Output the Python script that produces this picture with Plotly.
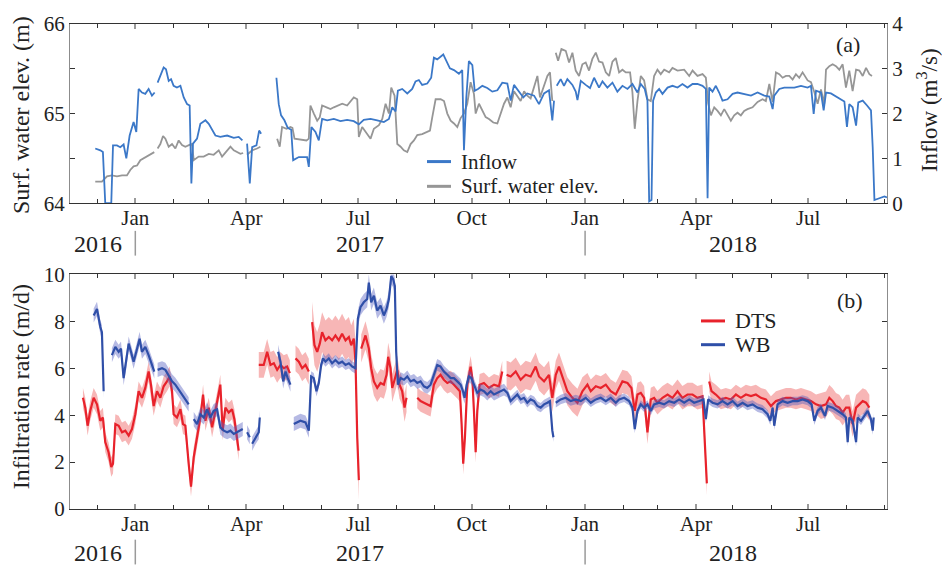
import pandas as pd
import plotly.graph_objects as go

# ---------------- data (days counted from 2017-01-01) ----------------
BASE = "2017-01-01"
X_START = "2016-11-09"
X_END = "2018-09-03"

INFLOW_DAY = [
    -32.5, -28.4, -26.3, -24.4, -19.5, -18.1, -14.9, -12.2, -9.5, -7.3,
    -4.6, -1.4, 0.8, 2.7, 5.4, 8.1, 10.8, 13.5, 15.7, 16.9,
    18.1, 20.3, 23.0, 24.9, 27.1, 29.0, 31.1, 33.8, 36.6, 39.3,
    42.0, 44.1, 45.5, 46.8, 50.1, 52.8, 56.9, 59.6, 62.3, 65.0,
    69.0, 74.5, 79.9, 83.9, 86.9, 88.8, 90.7, 92.9, 94.8, 98.3,
    100.5, 102.1, 108.0, 114.5, 116.4, 118.3, 121.0, 123.7, 126.5, 128.1,
    132.7, 139.4, 140.8, 142.9, 146.2, 148.9, 151.6, 155.7, 161.1, 166.5,
    171.9, 177.3, 181.4, 185.4, 190.9, 196.3, 201.7, 205.8, 208.5, 211.2,
    213.1, 216.6, 220.7, 224.7, 227.4, 230.1, 232.8, 236.9, 240.1, 242.3,
    245.0, 249.9, 252.6, 255.3, 258.6, 262.6, 265.3, 266.7, 268.6, 270.7,
    273.5, 275.4, 278.1, 281.6, 285.6, 289.7, 293.8, 297.8, 301.9, 304.6,
    307.3, 311.4, 314.9, 318.1, 323.6, 327.6, 331.7, 335.7, 338.4, 339.8,
    340.9, 342.0, 345.2, 347.9, 350.6, 354.7, 357.4, 358.8, 361.5, 365.5,
    369.0, 372.3, 376.3, 379.1, 383.1, 387.2, 391.2, 395.3, 399.4, 403.4,
    407.5, 410.2, 413.4, 415.6, 417.0, 418.9, 420.2, 422.4, 425.1, 427.8,
    431.9, 435.9, 440.0, 444.0, 448.1, 452.2, 456.2, 460.3, 463.0, 464.4,
    465.7, 468.4, 471.1, 473.8, 476.5, 480.6, 484.7, 488.7, 494.1, 499.6,
    505.0, 510.4, 514.5, 517.2, 518.5, 522.6, 526.6, 530.7, 534.8, 540.2,
    545.6, 548.3, 550.5, 552.4, 556.4, 558.6, 560.5, 564.5, 568.6, 572.7,
    575.4, 577.5, 579.4, 582.1, 584.9, 586.7, 590.3, 593.8, 597.0, 598.4,
    599.8, 603.8, 607.9, 610.0]
INFLOW_VAL = [
    1.22, 1.18, 1.14, 0.0, 0.0, 1.29, 1.29, 1.25, 1.31, 1.00,
    1.51, 1.81, 1.59, 2.55, 2.47, 2.44, 2.55, 2.40, 2.47, None,
    2.69, 2.84, 3.03, 2.99, 2.73, 2.77, 2.62, 2.58, 2.62, 2.36,
    2.21, 2.18, 0.44, 1.33, 1.44, 1.77, 1.85, 1.77, 1.64, 1.51,
    1.48, 1.51, 1.46, 1.48, 1.40, None, 1.33, 0.44, 1.25, 1.29,
    1.62, 1.55, None, 2.80, 2.21, 1.96, 1.85, 1.68, 1.64, 0.96,
    1.03, 1.03, 0.81, 1.70, 1.59, 1.40, 1.88, 1.85, 1.88, 1.83,
    1.86, 1.83, 1.76, 1.86, 1.88, 1.85, 1.81, 1.88, 2.14, 2.05,
    2.51, 2.55, 2.45, 2.55, 2.72, 2.75, 2.64, 2.67, 2.80, 3.25,
    3.21, 3.32, 3.16, 3.01, 2.97, 2.89, 2.97, 1.18, 2.36, 3.17,
    3.08, 2.51, 2.55, 2.62, 2.57, 2.49, 2.52, 2.69, 2.67, 2.29,
    2.64, 2.49, 2.36, 2.45, 2.40, 2.21, 2.45, 2.52, 1.85, 2.29,
    None, 2.62, 2.77, 2.62, 2.77, 2.64, 2.49, 2.30, 2.73, 2.64,
    2.57, 2.80, 2.58, 2.72, 2.58, 2.69, 2.49, 2.62, 2.55, 2.66,
    2.47, 2.66, 2.55, 2.29, 0.04, 0.07, 2.29, 2.47, 2.55, 2.44,
    2.58, 2.62, 2.58, 2.66, 2.58, 2.66, 2.66, 2.62, 2.55, 0.11,
    2.58, 2.49, 2.62, 2.47, 2.29, 2.32, 2.44, 2.47, 2.44, 2.40,
    2.47, 2.40, 2.38, 2.10, 2.40, 2.55, 2.58, 2.58, 2.58, 2.62,
    2.58, 2.62, 1.99, 2.51, 2.47, 2.07, 2.47, 2.45, 2.38, 2.32,
    2.27, 1.70, 2.21, 2.14, 1.73, 2.25, 2.29, 2.18, 2.07, 1.25,
    0.07, 0.11, 0.15, 0.13]

ELEV_DAY = [
    -32.5, -27.1, -23.0, -19.0, -14.9, -10.8, -6.8, -4.1, -1.4, 1.4,
    4.1, 6.8, 9.5, 12.2, 15.4, 16.9, 18.1, 20.3, 22.5, 24.4,
    27.1, 29.8, 32.5, 35.2, 37.9, 40.6, 43.9, 46.0, 47.4, 51.4,
    55.5, 59.6, 63.6, 67.7, 70.4, 74.5, 77.2, 79.9, 82.6, 85.3,
    87.5, 89.0, 90.7, 94.8, 98.8, 101.5, 108.0, 115.1, 117.2, 119.1,
    122.7, 125.9, 127.5, 129.2, 134.0, 138.9, 140.8, 142.1, 144.9, 147.6,
    149.7, 151.6, 155.2, 158.4, 161.1, 164.4, 167.9, 171.9, 174.6, 177.3,
    180.1, 181.4, 184.1, 188.2, 190.9, 193.6, 197.7, 200.4, 203.1, 205.8,
    207.7, 210.4, 212.6, 215.3, 217.9, 220.7, 223.4, 226.1, 228.8, 232.8,
    236.4, 239.1, 241.0, 243.7, 247.8, 250.5, 253.2, 255.9, 258.6, 261.3,
    264.0, 266.7, 269.4, 272.1, 274.8, 276.2, 278.9, 281.6, 284.3, 287.0,
    290.5, 293.8, 296.5, 299.2, 301.9, 304.6, 307.3, 310.0, 312.7, 315.5,
    318.1, 320.8, 323.6, 326.3, 328.4, 331.1, 334.4, 336.5, 338.4, 339.8,
    341.2, 343.1, 345.8, 349.3, 352.0, 354.7, 357.4, 360.1, 362.8, 365.5,
    368.2, 370.9, 373.7, 376.3, 379.1, 381.8, 384.5, 387.2, 389.9, 392.6,
    395.3, 398.0, 401.5, 403.4, 405.3, 407.5, 410.2, 412.9, 415.6, 418.3,
    421.0, 423.7, 426.4, 429.2, 433.2, 435.9, 440.0, 445.4, 449.5, 452.2,
    456.2, 460.3, 463.0, 464.9, 467.1, 469.8, 472.5, 475.2, 477.9, 480.6,
    483.3, 486.0, 488.7, 491.4, 494.1, 496.8, 500.9, 505.0, 509.0, 511.7,
    514.5, 517.2, 519.9, 522.6, 525.3, 528.0, 530.7, 533.4, 536.1, 538.8,
    541.5, 545.6, 548.3, 551.0, 553.7, 556.4, 559.1, 560.5, 563.2, 565.9,
    568.6, 571.3, 574.0, 576.7, 579.4, 582.1, 584.9, 587.6, 590.3, 593.0,
    595.7, 597.8]
ELEV_VAL = [
    64.24, 64.24, 64.30, 64.31, 64.30, 64.31, 64.31, 64.37, 64.41, 64.42,
    64.48, 64.50, 64.52, 64.54, 64.57, None, 64.61, 64.66, 64.75, 64.72,
    64.63, 64.66, 64.61, 64.70, 64.65, 64.63, 64.65, 64.66, 64.48, 64.52,
    64.52, 64.55, 64.54, 64.59, 64.52, 64.59, 64.63, 64.59, 64.57, 64.55,
    64.56, None, 64.54, 64.59, 64.61, 64.63, None, 64.72, 64.63, 64.85,
    64.83, 64.85, 64.84, 64.72, 64.71, 64.70, 64.72, 65.09, 65.00, 64.92,
    64.96, 65.09, 65.07, 65.05, 65.07, 65.09, 65.11, 65.09, 65.13, 65.18,
    65.16, 64.74, 64.85, 64.77, 64.72, 64.83, 64.87, 64.94, 65.11, 65.00,
    65.29, 65.20, 64.66, 64.63, 64.59, 64.57, 64.66, 64.70, 64.76, 64.77,
    64.79, 64.81, 64.96, 65.16, 65.16, 65.14, 65.00, 64.92, 64.89, 64.85,
    64.95, 65.00, 65.11, 65.35, 65.22, 65.00, 65.11, 65.03, 64.96, 64.94,
    64.90, 64.89, 65.00, 65.11, 65.18, 65.07, 65.25, 65.20, 65.14, 65.25,
    65.20, 65.17, 65.29, 65.42, 65.18, 65.29, 65.42, 65.46, 65.14, None,
    65.68, 65.59, 65.72, 65.70, 65.57, 65.68, 65.48, 65.42, 65.55, 65.57,
    65.48, 65.61, 65.68, 65.58, 65.57, 65.46, 65.42, 65.58, 65.62, 65.46,
    65.49, 65.46, 65.46, 65.24, 64.83, 65.14, 65.42, 65.37, 65.16, 65.14,
    65.42, 65.49, 65.44, 65.49, 65.46, 65.51, 65.48, 65.49, 65.42, 65.48,
    65.42, 65.44, 65.40, 65.11, 64.98, 65.07, 65.03, 64.98, 65.05, 64.98,
    64.92, 64.98, 65.01, 64.98, 65.03, 65.05, 65.07, 65.13, 65.16, 65.14,
    65.33, 65.13, 65.46, 65.44, 65.40, 65.42, 65.42, 65.38, 65.44, 65.40,
    65.46, 65.37, 65.35, 65.24, 65.11, 65.27, 65.11, 65.49, 65.53, 65.55,
    65.53, 65.49, 65.55, 65.29, 65.48, 65.25, 65.49, 65.48, 65.42, 65.51,
    65.44, 65.42]

DTS_DAY = [
    -42.5, -40.6, -38.7, -36.6, -33.8, -31.1, -28.4, -26.3, -24.4, -21.7,
    -19.5, -18.1, -16.2, -13.5, -10.8, -8.1, -5.4, -2.7, 0.0, 2.7,
    5.4, 8.1, 10.8, 12.7, 14.9, 17.6, 20.3, 23.0, 25.7, 27.9,
    29.8, 31.1, 33.8, 36.6, 38.7, 40.6, 43.3, 45.2, 47.4, 50.1,
    52.8, 55.0, 56.9, 59.6, 62.3, 65.0, 67.7, 69.0, 70.9, 73.1,
    75.8, 78.5, 80.4, 82.6, 83.9, 90.0, 100.2, 104.2, 107.0, 109.7,
    112.4, 115.1, 117.8, 120.5, 123.2, 125.4, 127.5, 130.0, 132.7, 135.4,
    138.1, 140.8, 142.0, 143.5, 145.4, 147.6, 149.7, 151.6, 154.3, 157.0,
    159.7, 162.4, 165.1, 167.8, 170.6, 173.3, 175.2, 177.3, 178.7, 180.1,
    181.4, 182.3, 183.3, 186.8, 189.5, 191.4, 193.6, 196.3, 199.0, 201.7,
    203.9, 205.2, 207.1, 208.5, 210.4, 212.6, 214.4, 216.6, 218.5, 220.1,
    224.0, 228.8, 231.5, 234.2, 236.9, 239.6, 242.3, 245.0, 247.7, 250.4,
    253.2, 255.9, 258.6, 261.3, 263.4, 264.8, 266.1, 267.5, 269.4, 272.1,
    273.5, 274.8, 276.2, 277.5, 279.4, 282.9, 287.0, 291.1, 295.1, 297.8,
    299.5, 301.3, 304.6, 308.7, 312.7, 316.8, 320.8, 324.9, 327.6, 331.7,
    335.7, 338.4, 341.2, 343.8, 346.6, 350.6, 354.7, 358.8, 362.8, 366.9,
    369.6, 373.7, 377.7, 381.8, 385.8, 389.9, 392.6, 395.3, 399.4, 402.6,
    405.3, 407.5, 410.2, 412.9, 415.6, 418.3, 421.0, 423.7, 427.8, 431.9,
    435.9, 440.0, 444.0, 448.1, 452.2, 456.2, 460.3, 462.2, 463.8, 464.8,
    465.7, 467.6, 471.1, 475.2, 479.2, 483.3, 487.4, 491.4, 495.5, 499.6,
    503.6, 507.7, 511.7, 515.8, 519.9, 523.9, 528.0, 532.0, 536.1, 540.2,
    544.2, 548.3, 552.4, 556.4, 560.5, 563.2, 565.9, 568.6, 571.3, 574.0,
    576.7, 579.4, 582.1, 584.9, 587.6, 590.3, 593.0, 595.7]
DTS_VAL = [
    4.74, 4.32, 3.55, 4.18, 4.74, 4.46, 3.76, 3.90, 2.85, 2.42,
    1.79, 1.93, 3.62, 3.55, 3.27, 3.34, 3.13, 3.41, 4.04, 5.02,
    4.74, 5.16, 5.86, 5.30, 4.39, 5.02, 4.74, 5.23, 5.44, 5.65,
    5.02, 4.04, 3.90, 4.25, 3.62, 3.55, 1.93, 0.95, 2.21, 3.06,
    3.90, 4.88, 3.76, 4.32, 3.48, 4.18, 5.02, 5.30, 3.34, 4.32,
    4.11, 4.25, 3.83, 3.06, 2.49, None, 6.14, 6.14, 6.70, 6.14,
    6.21, 5.93, 6.14, 6.00, 6.07, 5.79, None, 6.42, 6.28, 6.00,
    6.14, 5.86, None, 7.97, 6.98, 6.70, 7.05, 7.54, 7.19, 7.33,
    7.19, 7.40, 7.19, 7.47, 7.19, 7.33, 6.98, 7.26, 6.28, 3.06,
    1.23, None, 6.84, 7.40, 6.84, 6.00, 5.44, 5.16, 5.37, 5.30,
    5.72, 6.49, 6.00, 5.16, 5.51, 5.93, 5.30, 5.02, 4.32, 4.74,
    None, 4.74, 4.60, 4.53, 4.46, 4.39, 5.30, 5.58, 5.72, 5.51,
    5.37, 5.44, 5.30, 5.16, 5.02, 3.62, 1.93, 3.06, 5.30, 6.07,
    5.58, 4.18, 2.42, 4.18, 5.30, 5.37, 5.16, 5.30, 5.23, 5.86,
    None, 5.72, 5.65, 5.86, 5.51, 5.72, 5.65, 6.07, 5.65, 5.44,
    5.72, 4.74, 5.72, 6.07, 5.65, 5.02, 4.74, 4.53, 5.02, 5.30,
    5.02, 5.23, 5.16, 5.30, 5.02, 4.88, 5.16, 5.44, 5.37, 5.16,
    4.18, 4.88, 4.95, 4.74, 3.27, 4.67, 4.74, 4.53, 4.74, 4.88,
    4.74, 5.02, 4.74, 4.88, 4.88, 4.74, 4.81, 3.06, 1.09, None,
    5.44, 5.02, 4.88, 4.67, 4.74, 4.67, 4.88, 4.74, 4.88, 4.81,
    4.88, 4.74, 4.67, 4.39, 4.60, 4.67, 4.74, 4.74, 4.67, 4.74,
    4.67, 4.60, 4.46, 4.39, 4.46, 4.74, 4.60, 4.39, 4.32, 4.11,
    4.32, 4.32, 3.62, 4.32, 4.46, 4.60, 4.53, 4.32]

WB_DAY = [
    -33.8, -31.1, -28.4, -27.1, -25.7, -22.0, -19.0, -16.2, -13.5, -11.6,
    -9.5, -7.3, -5.4, -3.5, -1.4, 0.8, 3.5, 5.4, 8.1, 10.8,
    13.5, 15.4, 16.8, 18.1, 21.7, 24.4, 27.1, 29.8, 32.5, 35.2,
    37.9, 40.6, 43.3, 45.0, 47.4, 50.1, 52.8, 55.5, 58.2, 60.9,
    63.6, 66.3, 69.0, 71.8, 74.5, 77.2, 79.9, 82.6, 85.3, 87.2,
    89.0, 90.7, 92.9, 93.8, 94.8, 97.5, 100.2, 101.0, 108.0, 115.9,
    117.8, 120.0, 121.9, 123.7, 125.9, 127.2, 128.6, 134.0, 138.1, 140.8,
    142.7, 144.8, 147.0, 148.9, 150.8, 152.4, 154.3, 157.0, 159.7, 162.4,
    165.1, 167.9, 170.6, 173.3, 176.0, 178.7, 180.6, 182.7, 185.4, 188.2,
    189.5, 191.4, 193.6, 196.3, 199.0, 201.7, 203.9, 205.8, 207.7, 209.3,
    210.6, 211.7, 213.1, 215.3, 218.0, 220.7, 223.4, 226.1, 228.8, 231.5,
    234.2, 236.9, 239.6, 242.3, 245.0, 247.7, 250.4, 253.2, 255.9, 258.6,
    261.3, 264.0, 265.9, 267.2, 268.9, 270.7, 272.7, 274.8, 277.5, 280.2,
    282.9, 285.6, 288.4, 291.1, 293.8, 296.5, 299.2, 301.9, 304.6, 307.3,
    310.0, 312.7, 315.4, 318.1, 320.8, 323.6, 326.3, 329.0, 331.7, 334.4,
    336.5, 338.4, 339.3, 340.2, 341.2, 345.2, 349.3, 353.3, 357.4, 361.5,
    365.5, 369.6, 373.7, 377.7, 381.8, 385.8, 389.9, 392.6, 396.7, 400.7,
    403.4, 405.3, 407.5, 410.2, 412.9, 415.6, 418.3, 421.0, 425.1, 429.1,
    433.2, 437.3, 441.3, 445.4, 449.5, 453.5, 457.6, 461.1, 463.0, 464.9,
    468.4, 472.5, 476.5, 480.6, 484.7, 488.7, 492.8, 496.8, 500.9, 505.0,
    509.0, 513.1, 515.3, 517.2, 518.5, 521.2, 525.3, 529.3, 533.4, 537.5,
    541.5, 545.6, 548.8, 551.0, 553.7, 556.4, 559.7, 561.8, 565.9, 570.0,
    574.0, 576.7, 578.1, 579.4, 582.1, 584.9, 586.2, 588.9, 591.6, 594.3,
    597.0, 598.4, 599.2]
WB_VAL = [
    8.25, 8.53, 7.76, 7.54, 5.02, None, 6.56, 6.91, 6.70, 6.84,
    5.58, 6.28, 7.05, 6.70, 6.28, 6.70, 7.26, 6.70, 6.91, 6.56,
    6.14, 5.86, None, 5.93, 6.00, 5.93, 5.65, 5.44, 5.30, 5.09,
    4.88, 4.67, 4.46, None, 3.83, 3.62, 4.04, 3.90, 4.25, 3.90,
    4.18, 4.25, 3.48, 3.34, 3.27, 3.34, 3.20, 3.27, 3.34, 3.41,
    None, 3.27, 3.06, None, 2.78, 3.06, 3.27, 3.90, None, 6.70,
    6.28, 5.44, 5.86, 5.58, 5.30, None, 3.62, 3.76, 3.69, 3.34,
    5.65, 5.58, 5.02, 5.37, 6.14, 6.42, 6.28, 6.42, 6.21, 6.35,
    6.21, 6.28, 6.14, 6.21, 6.07, 6.00, 8.11, 8.60, 8.81, 8.95,
    9.65, 8.81, 9.09, 8.46, 8.67, 8.25, 8.53, 8.95, 9.93, 9.79,
    9.51, 6.70, 5.30, 5.58, 5.51, 5.65, 5.44, 5.51, 5.37, 5.44,
    5.23, 5.16, 5.30, 5.72, 6.14, 6.07, 5.86, 5.72, 5.58, 5.58,
    5.44, 5.30, 5.02, 4.74, 5.30, 5.65, 5.58, 5.30, 4.95, 5.09,
    5.02, 4.88, 5.02, 4.88, 4.95, 5.02, 5.09, 4.95, 4.60, 4.74,
    4.88, 4.67, 4.74, 4.53, 4.67, 4.60, 4.39, 4.32, 4.46, 4.53,
    4.60, 3.34, 3.06, None, 4.53, 4.67, 4.74, 4.60, 4.67, 4.60,
    4.74, 4.53, 4.67, 4.74, 4.60, 4.74, 4.53, 4.67, 4.74, 4.60,
    4.32, 3.41, 4.18, 4.46, 4.32, 4.46, 4.18, 4.46, 4.53, 4.46,
    4.60, 4.53, 4.67, 4.53, 4.67, 4.53, 4.60, 4.67, 3.83, 4.67,
    4.53, 4.46, 4.60, 4.46, 4.60, 4.39, 4.53, 4.39, 4.46, 4.32,
    4.25, 4.04, 3.76, 4.32, 3.55, 4.46, 4.60, 4.53, 4.60, 4.60,
    4.67, 4.60, 4.46, 3.76, 4.18, 4.32, 3.97, 4.39, 4.32, 4.18,
    4.04, 3.90, 2.85, 3.90, 3.76, 2.85, 3.90, 3.76, 3.97, 4.18,
    3.83, 3.34, 3.90]

# uncertainty half-widths (m/d), read per period: period start day -> half-width
DTS_BAND_START = [-45, 95, 142, 182, 225, 300, 365, 465, 555]
DTS_BAND_HW = [0.42, 0.55, 0.85, 0.60, 0.45, 0.60, 0.50, 0.42, 0.55]
WB_BAND_START = [-45, 142, 180, 212, 300, 365]
WB_BAND_HW = [0.30, 0.22, 0.35, 0.25, 0.20, 0.18]

YEAR_LABELS = ["2016", "2017", "2018"]
YEAR_LABEL_DATES = ["2016-12-02", "2017-07-02", "2018-05-01"]
YEAR_BREAKS = ["2017-01-01", "2018-01-01"]

# ---------------- colours ----------------
C_INFLOW = "#3b78c8"
C_ELEV = "#969696"
C_DTS = "#e8222b"
C_DTS_BAND = "rgba(236,80,80,0.42)"
C_WB = "#2f4fa8"
C_WB_BAND = "rgba(80,90,190,0.42)"
FONT = "Liberation Serif, Times New Roman, serif"

base_ts = pd.Timestamp(BASE)


def to_dates(days):
    return [base_ts + pd.Timedelta(days=float(d)) for d in days]


def lookup(day, starts, widths):
    w = widths[0]
    for s, v in zip(starts, widths):
        if day >= s:
            w = v
    return w


def band_polygons(days, vals, starts, widths):
    segs, cur = [], []
    for d, v in zip(days, vals):
        if v is None:
            if cur:
                segs.append(cur)
            cur = []
        else:
            cur.append((d, v))
    if cur:
        segs.append(cur)
    xs, ys = [], []
    for seg in segs:
        ds = [p[0] for p in seg]
        vs = [p[1] for p in seg]
        hw = [lookup(d, starts, widths) for d in ds]
        up = [v + h for v, h in zip(vs, hw)]
        lo = [v - h for v, h in zip(vs, hw)]
        xs += to_dates(ds) + to_dates(ds[::-1]) + [None]
        ys += up + lo[::-1] + [None]
    return xs, ys


fig = go.Figure()

# ---- panel (a) ----
fig.add_trace(go.Scatter(x=to_dates(ELEV_DAY), y=ELEV_VAL, mode="lines",
                         name="Surf. water elev.", line=dict(color=C_ELEV, width=1.8),
                         xaxis="x", yaxis="y"))
fig.add_trace(go.Scatter(x=to_dates(INFLOW_DAY), y=INFLOW_VAL, mode="lines",
                         name="Inflow", line=dict(color=C_INFLOW, width=1.8),
                         xaxis="x", yaxis="y2"))

# ---- panel (b) ----
bx, by = band_polygons(DTS_DAY, DTS_VAL, DTS_BAND_START, DTS_BAND_HW)
fig.add_trace(go.Scatter(x=bx, y=by, fill="toself", fillcolor=C_DTS_BAND, mode="lines",
                         line=dict(width=0), hoverinfo="skip", showlegend=False,
                         xaxis="x2", yaxis="y3"))
fig.add_trace(go.Scatter(x=to_dates(DTS_DAY), y=DTS_VAL, mode="lines", name="DTS",
                         line=dict(color=C_DTS, width=2.2), xaxis="x2", yaxis="y3"))
bx, by = band_polygons(WB_DAY, WB_VAL, WB_BAND_START, WB_BAND_HW)
fig.add_trace(go.Scatter(x=bx, y=by, fill="toself", fillcolor=C_WB_BAND, mode="lines",
                         line=dict(width=0), hoverinfo="skip", showlegend=False,
                         xaxis="x2", yaxis="y3"))
fig.add_trace(go.Scatter(x=to_dates(WB_DAY), y=WB_VAL, mode="lines", name="WB",
                         line=dict(color=C_WB, width=2.2), xaxis="x2", yaxis="y3"))

TOP_DOM = [0.6306, 1.0]
BOT_DOM = [0.0, 0.4837]

xcommon = dict(
    type="date", range=[X_START, X_END], showgrid=False, zeroline=False,
    showline=True, linecolor="#333333", linewidth=1, mirror="ticks",
    ticks="inside", ticklen=5, tickwidth=1.5, tickcolor="#9a9a9a",
    dtick="M3", tick0="2017-01-01", tickformat="%b", ticklabelstandoff=-4,
    tickfont=dict(family=FONT, size=21, color="#222"),
    minor=dict(dtick="M1", ticks="inside", ticklen=4, tickwidth=1, tickcolor="#333333",
               showgrid=False),
    domain=[0, 1],
)
ycommon = dict(showgrid=False, zeroline=False, showline=True, linecolor="#8c8c8c",
               linewidth=1, ticks="inside", ticklen=5, tickwidth=1, tickcolor="#333333",
               tickfont=dict(family=FONT, size=21, color="#222"))

fig.update_layout(
    width=942, height=566,
    margin=dict(l=70, r=55, t=19, b=57),
    paper_bgcolor="white", plot_bgcolor="white",
    showlegend=False,
    font=dict(family=FONT, size=21, color="#222"),
    xaxis=dict(**xcommon, anchor="y"),
    xaxis2=dict(**xcommon, anchor="y3"),
    yaxis=dict(**ycommon, domain=TOP_DOM, anchor="x", range=[64, 66],
               tickvals=[64, 65, 66],
               minor=dict(dtick=0.5, ticks="inside", ticklen=5, tickcolor="#333333",
                          showgrid=False)),
    yaxis2=dict(**ycommon, overlaying="y", side="right", anchor="x", range=[0, 4],
                tickvals=[0, 1, 2, 3, 4]),
    yaxis3=dict(**ycommon, domain=BOT_DOM, anchor="x2", range=[0, 10],
                tickvals=[0, 2, 4, 6, 8, 10], mirror="ticks"),
)


def py(px):  # pixel row -> paper y
    return (509 - px) / 490


def pxx(px):  # pixel column -> paper x
    return (px - 70) / 817


CM = dict(xanchor="center", yanchor="middle", showarrow=False)
ann = []
# axis titles
ann.append(dict(text="Surf. water elev. (m)", x=pxx(21), y=py(111), xref="paper", yref="paper",
                textangle=-90, font=dict(size=24), **CM))
ann.append(dict(text="Infiltration rate (m/d)", x=pxx(21), y=py(386), xref="paper", yref="paper",
                textangle=-90, font=dict(size=24), **CM))
ann.append(dict(text="Inflow (m<sup>3</sup>/s)", x=pxx(927), y=py(106), xref="paper", yref="paper",
                textangle=-90, font=dict(size=23), **CM))
# panel labels
ann.append(dict(text="(a)", x=pxx(848), y=py(40), xref="paper", yref="paper",
                font=dict(size=22), **CM))
ann.append(dict(text="(b)", x=pxx(850), y=py(298), xref="paper", yref="paper",
                font=dict(size=22), **CM))
# year labels
for lab, d in zip(YEAR_LABELS, YEAR_LABEL_DATES):
    ann.append(dict(text=lab, x=d, xref="x", y=py(241), yref="paper",
                    font=dict(size=24), **CM))
    ann.append(dict(text=lab, x=d, xref="x2", y=py(553), yref="paper",
                    font=dict(size=24), **CM))

shapes = []
for d in YEAR_BREAKS:
    shapes.append(dict(type="line", xref="x", x0=d, x1=d, yref="paper", y0=py(228), y1=py(253),
                       line=dict(color="#9a9a9a", width=1.5)))
    shapes.append(dict(type="line", xref="x2", x0=d, x1=d, yref="paper", y0=py(540), y1=py(565),
                       line=dict(color="#9a9a9a", width=1.5)))

# legends (keys + labels)
legend_a = [("Inflow", C_INFLOW, 158), ("Surf. water elev.", C_ELEV, 183)]
for name, col, yy in legend_a:
    shapes.append(dict(type="line", xref="paper", yref="paper", x0=pxx(427), x1=pxx(451),
                       y0=py(yy), y1=py(yy), line=dict(color=col, width=3)))
    ann.append(dict(text=name, x=pxx(459), y=py(yy), xref="paper", yref="paper",
                    xanchor="left", yanchor="middle", showarrow=False, font=dict(size=21)))
legend_b = [("DTS", C_DTS, 319), ("WB", C_WB, 343)]
for name, col, yy in legend_b:
    shapes.append(dict(type="line", xref="paper", yref="paper", x0=pxx(701), x1=pxx(725),
                       y0=py(yy), y1=py(yy), line=dict(color=col, width=3)))
    ann.append(dict(text=name, x=pxx(733), y=py(yy), xref="paper", yref="paper",
                    xanchor="left", yanchor="middle", showarrow=False, font=dict(size=22)))

fig.update_layout(annotations=ann, shapes=shapes)

fig.write_html("out.html")
